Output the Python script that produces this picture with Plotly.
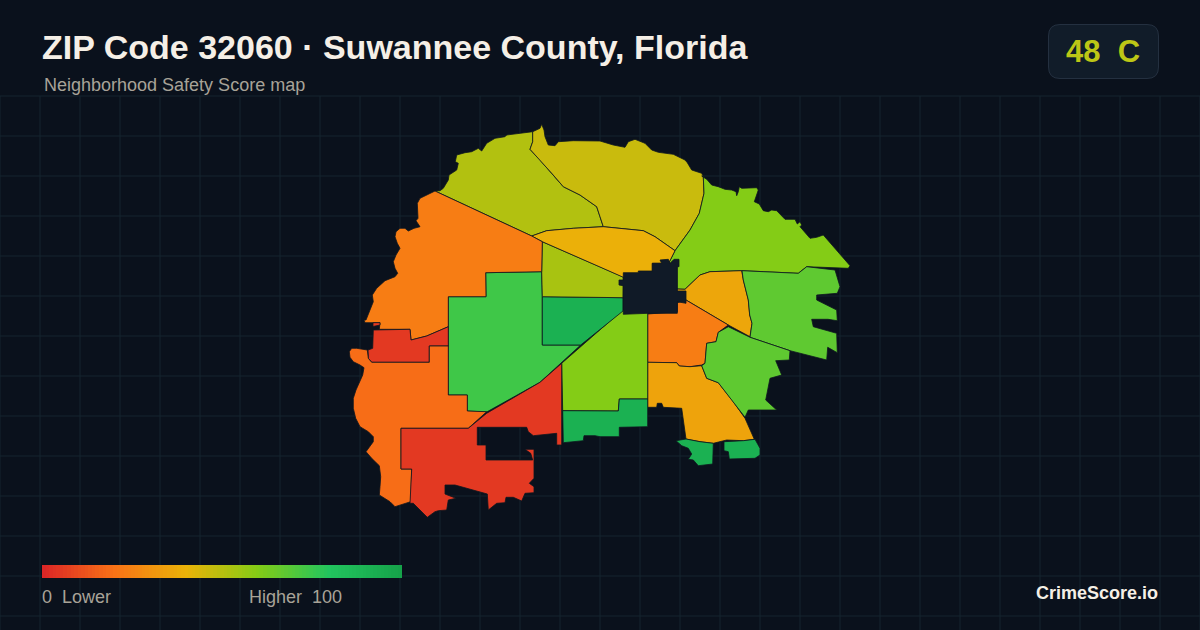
import plotly.graph_objects as go
from plotly.colors import sample_colorscale

# ---------- chart data ----------
TITLE = "ZIP Code 32060 · Suwannee County, Florida"
SUBTITLE = "Neighborhood Safety Score map"
SCORE_TEXT = "48\u00a0\u00a0C"
LEGEND_LOW = "0\u00a0\u00a0Lower"
LEGEND_HIGH = "Higher\u00a0\u00a0100"
BRAND = "CrimeScore.io"

SCORE_STOPS = [0, 20, 40, 60, 80, 100]
SCORE_COLORS = ["#dc2626", "#f97316", "#eab308", "#84cc16", "#22c55e", "#16a34a"]

# tract outlines, map units, and their scores
nw_yellow = [(435,191),(440,190.7),(443.3,188.3),(448.3,180),(449,175),(456.7,170),(458.3,163.3),(455.3,161.7),(456.7,155),(465,152.7),(471.7,151.7),(478.3,148.3),(481.7,151),(486.7,143.3),(495,138.3),(505,136.7),(506.7,135),(523.3,133.3),(532.7,131.7),(532.7,141.7),(530,149.3),(540,160),(551.7,173.3),(563.3,186.7),(580,195),(596.7,206.7),(600,216.7),(603.3,226.7),(573.3,228.3),(546.7,230.7),(531.7,236)]
n_yellow = [(532.7,131.7),(540,128.3),(541.7,124.3),(544,130),(545,136.7),(548.3,145),(555,145.7),(558.3,141.7),(573.3,140.7),(600,141),(613.3,145),(625,147.3),(628.3,141.7),(635,139.3),(645,143.3),(651.7,150),(658.3,152.3),(673.3,154.3),(685,160),(687.3,162.7),(691.7,170),(701.7,173.3),(703.3,176.7),(704,193.3),(699.3,213.3),(690,230),(675,250.7),(655,236.7),(643.3,230.7),(603.3,226.7),(600,216.7),(596.7,206.7),(580,195),(563.3,186.7),(551.7,173.3),(540,160),(530,149.3),(532.7,141.7)]
ne_lime = [(701.7,176),(706.7,179.3),(711.7,185),(718.3,186.7),(725,189.3),(731.7,190),(736,191.7),(736.7,195.7),(738.3,191.7),(739.3,186.7),(741.7,188.3),(744,188.3),(756.7,187.7),(758.3,190),(756,196),(754.3,201.7),(759.3,204),(763.3,210.7),(768.3,211.7),(771.7,210),(776.7,210.7),(781.7,216),(785,219.3),(795,219.3),(797.3,224),(800,221.7),(801.7,225),(800,226.7),(810,238.3),(816.7,237.3),(823.3,235),(850,265.7),(848.3,268.3),(806.7,266.7),(798.3,273.3),(765,271.7),(741.7,270.7),(710,271.7),(700,275),(685,289.3),(677,289),(677,266),(668.3,264),(675,250.7),(690,230),(699.3,213.3),(704,193.3),(703.3,176.7)]
e_amber = [(685,289.3),(700,275),(710,271.7),(741.7,270.7),(743.3,280),(748.3,300),(749.7,315),(752,323.3),(750,336.7),(728.3,325),(686,300),(677,300),(677,289)]
e_orange = [(647.7,314),(677.3,311.7),(677.3,302.7),(686,300),(728.3,325),(718.3,332.3),(716,341.7),(706.7,343.3),(705,363.3),(701.7,365),(690,366.7),(679.3,366),(676.7,362.7),(647.7,362.3)]
se_amber = [(647.7,362.3),(676.7,362.7),(679.3,366),(690,366.7),(701.7,365.7),(706.7,378.3),(718.3,382.7),(733.3,401.7),(745,418.3),(754.3,439.3),(743.3,440.7),(726.7,440),(713.3,443.3),(700,441.7),(686,439),(681.7,408.3),(663.3,407.3),(661.7,403.3),(657.3,403.3),(656.7,407.3),(647.7,407.3)]
e_green = [(742,270.7),(765,271.7),(798.3,273.3),(806.7,266.7),(835,270),(840,286.7),(837.3,293.3),(816.7,295),(816.7,300),(836.7,310),(837.3,320.7),(828,319.3),(811.7,319.3),(813.3,326.7),(836.7,333.3),(837.3,352.7),(827.7,347.3),(826.7,360),(790,350.7),(750,337.3),(752,323.3),(749.7,315),(748.3,300),(743.3,280)]
se_green = [(728.3,326.7),(750,337.3),(790,350.7),(789.3,360),(775.7,360.7),(781.7,375),(770,378.3),(765.7,400),(776.7,410),(748.3,410),(745,417.3),(733.3,401.7),(718.3,382.7),(706.7,378.3),(701.7,365.7),(705,363.3),(706.7,343.3),(716,341.7),(718.3,332.3)]
s_lime = [(561.7,363.3),(600,330),(622.7,310),(647.7,312),(647.7,399),(619.3,399),(618.3,411),(562.7,410.7)]
s_green = [(562.7,410.7),(618.3,411),(619.3,399),(647.7,399),(647.7,426.7),(619.3,427.3),(619.3,436.7),(600,436.7),(595,435.7),(584,435.7),(583.3,440.7),(563.3,442.7)]
w_green = [(485.7,272.7),(541.7,271.7),(542.3,296.7),(542.3,345),(580.7,345),(540,382.3),(486.7,412),(467.3,411),(467.3,395),(448.3,395),(448.3,296.7),(486,296.7)]
mid_green = [(542.3,296.7),(623,297.7),(623,311),(580.7,345),(542.3,345)]
mid_yellow = [(542.3,241.7),(600,267),(623.3,277),(623,297.7),(542.3,296.7),(541.7,271.7)]
mid_amber = [(531.7,236),(546.7,230.7),(573.3,228.3),(603.3,226.7),(643.3,230.7),(655,236.7),(675,250.7),(668.3,264),(660,272),(623.3,277.3),(600,267),(542.3,241.7)]
nw_orange = [(435,191),(427.3,195),(420,198.3),(417.3,203.3),(417.3,211.7),(418,218.3),(416,220.7),(420,226.7),(414,228.3),(408.3,231),(405,228.3),(400,228.3),(396,231.7),(395,236.7),(397.3,243.3),(400,248.3),(396,255),(393.3,261.7),(395,268.3),(397.7,273.3),(395,276.7),(385,280.7),(376.7,288.3),(372.3,295),(373.3,301.7),(370,310),(366,320),(364,320),(365,322.7),(380,322.7),(380,325),(379.3,329.3),(410,329.3),(411,340),(426.7,336),(448.3,326.7),(448.3,296.7),(486,296.7),(485.7,272.7),(541.7,271.7),(542.3,241.7),(531.7,236)]
w_red = [(373.3,330),(410,329.3),(411,340),(426.7,336),(448.3,326.7),(448.3,346),(429.3,346),(429.3,362.3),(371.7,362.3),(368.3,358.3),(368,350),(372.7,348.3)]
w_orange = [(429.3,346),(448.3,346),(448.3,395),(467.3,395),(467.3,411),(486.7,411.7),(468.3,428.3),(401,428.3),(401,469),(411.7,469),(410.7,501.7),(403.3,504.3),(395,506.7),(390,501.7),(385,498.3),(379.3,495),(380,486.7),(380.7,476.7),(379.3,465.7),(371.7,458.3),(366,451.7),(370,446),(373.3,441.7),(373.3,436.7),(368.3,431.7),(360,426.7),(355.7,418.3),(353.3,408.3),(353.3,398.3),(356,390),(360,381.7),(362.7,375),(364,367.7),(360,365),(353.3,361.7),(350,357.3),(349.3,351.7),(351.7,348.3),(356.7,348.3),(367.3,350),(368.3,358.3),(371.7,362.3),(429.3,362.3)]
sw_red = [(468.3,428.3),(486.7,413.3),(540,382.3),(561.7,363.3),(561.7,445),(556.7,445),(556.7,433.3),(533.3,435.7),(528.3,431.7),(526.7,427.3),(477.3,427.3),(477.3,445),(486,445),(486,460),(532.7,460),(530.7,453.3),(525,449.3),(534,449.3),(534,478.3),(529.3,483.3),(534,486.7),(534,492.7),(525,493.3),(521.7,501),(513.3,497.3),(506,497.3),(505,502.7),(496.7,503.3),(488.3,510),(487.3,494),(455,485),(445,485),(445,494),(451.7,496.7),(456,498.3),(448.3,500),(446.7,510),(438.3,510.7),(435,511.7),(427.3,517.3),(420,510),(413.3,503.3),(410,503.3),(411.7,469),(401,469),(401,428.3)]
lobe_west = [(676,440.7),(686,439),(700,441.7),(713.3,443.3),(712.7,464),(698.3,465.7),(693.3,460),(688.3,459.3),(691.7,454),(688.3,448.3),(681.7,445.7)]
lobe_east = [(724,441.7),(743.3,440.7),(755,439.3),(760,448.3),(760,455),(755,458.3),(729.3,459),(728.3,451.7),(724,450.7)]
tiny_orange = [(652.3,263.3),(662,263.3),(662,267),(659,271),(652.3,271)]
tiny_red = [(373,322.7),(380,322.7),(380,325),(373,326.5)]
center_zip = [(623.3,272.7),(638.3,272.7),(638.3,271),(652.3,271),(652.3,263.3),(661.7,263.3),(660,260),(668.3,259.3),(670,263.3),(674,259.3),(679,259.3),(679,266.7),(677.3,266.7),(677.3,291),(686,291),(686,303.3),(677.3,301.7),(677.3,313.3),(648.3,313.3),(623.3,314.3),(623.3,285.7),(619,285),(619,280),(623.3,280)]

tracts = [
    (nw_yellow, 51), (n_yellow, 46.5), (ne_lime, 60), (e_amber, 36), (e_orange, 23),
    (se_amber, 35), (e_green, 67.5), (se_green, 67.5), (s_lime, 60), (s_green, 92),
    (w_green, 74), (mid_green, 92), (mid_yellow, 53), (mid_amber, 39), (nw_orange, 23),
    (w_red, 5), (w_orange, 18.4), (sw_red, 5), (lobe_west, 92), (lobe_east, 92),
    (tiny_red, 5), (tiny_orange, 23),
]
CENTER_COLOR = "#101a27"

# ---------- styles ----------
BG = "#0a111c"
GRID = "#14242f"
EDGE = "#0e1620"
MUTED = "#a8a398"
CREAM = "#f5efe6"

scale = [[s / 100, c] for s, c in zip(SCORE_STOPS, SCORE_COLORS)]

def color_of(v):
    return sample_colorscale(scale, [v / 100])[0]

fig = go.Figure()

def add_poly(pts, color):
    fig.add_trace(go.Scatter(
        x=[p[0] for p in pts] + [pts[0][0]],
        y=[p[1] for p in pts] + [pts[0][1]],
        mode="lines", fill="toself", fillcolor=color,
        line=dict(color=EDGE, width=0.8), hoverinfo="skip", showlegend=False))

for pts, v in tracts:
    add_poly(pts, color_of(v))
add_poly(center_zip, CENTER_COLOR)

# legend ramp
ramp = list(range(0, 101))
fig.add_trace(go.Heatmap(
    x=[42 + 360 * i / 101 for i in range(102)],
    y=[565, 578], z=[ramp], zmin=0, zmax=100,
    colorscale=scale, showscale=False, hoverinfo="skip"))

# background grid
shapes = []
for x in range(0, 1201, 40):
    shapes.append(dict(type="line", layer="below", x0=x, x1=x, y0=96, y1=630,
                       line=dict(color=GRID, width=1)))
for y in range(96, 631, 40):
    shapes.append(dict(type="line", layer="below", x0=0, x1=1200, y0=y, y1=y,
                       line=dict(color=GRID, width=1)))
# score badge
shapes.append(dict(type="path", layer="below",
    path="M 1060 24.5 H 1147 Q 1158.5 24.5 1158.5 36 V 67 Q 1158.5 78.5 1147 78.5 H 1060 Q 1048.5 78.5 1048.5 67 V 36 Q 1048.5 24.5 1060 24.5 Z",
    fillcolor="#111c29", line=dict(color="#243040", width=1)))

def label(x, y, text, size, color, bold=False, anchor="left"):
    fig.add_annotation(x=x, y=y, text=f"<b>{text}</b>" if bold else text,
        showarrow=False, xanchor=anchor, yanchor="middle", borderpad=0, borderwidth=0,
        font=dict(family="Liberation Sans", size=size, color=color))

label(42, 46.5, TITLE, 34, CREAM, bold=True)
label(44, 85, SUBTITLE, 18, MUTED)
label(1103, 51, SCORE_TEXT, 31, "#bdc616", bold=True, anchor="center")
label(42, 597, LEGEND_LOW, 18, MUTED)
label(249, 597, LEGEND_HIGH, 18, MUTED)
label(1158, 593, BRAND, 18, CREAM, bold=True, anchor="right")

fig.update_layout(
    width=1200, height=630, margin=dict(l=0, r=0, t=0, b=0),
    paper_bgcolor=BG, plot_bgcolor=BG, shapes=shapes, showlegend=False,
    xaxis=dict(range=[0, 1200], visible=False, fixedrange=True),
    yaxis=dict(range=[630, 0], visible=False, fixedrange=True),
)
fig.write_html("out.html", post_script="document.body.style.margin='0';document.body.style.overflow='hidden';",
               config={"displayModeBar": False})
